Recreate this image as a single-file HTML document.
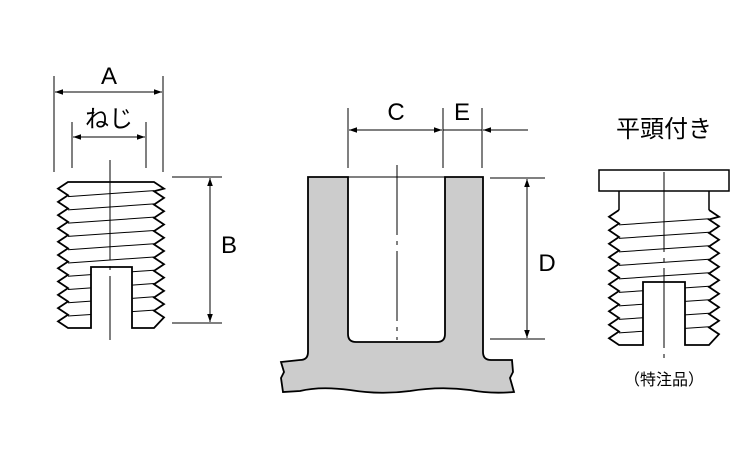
<!DOCTYPE html>
<html><head><meta charset="utf-8"><style>
body{margin:0;background:#fff}
svg{display:block}
text{font-family:"Liberation Sans","Noto Sans CJK JP",sans-serif;fill:#000}
</style></head><body>
<svg id="s" width="750" height="450" viewBox="0 0 750 450" xmlns="http://www.w3.org/2000/svg">
<defs>
<marker id="ar" viewBox="0 0 10 10" refX="10" refY="5" markerWidth="11" markerHeight="8" orient="auto-start-reverse" markerUnits="userSpaceOnUse"><path d="M0,1.5 L10,5 L0,8.5 Z" fill="#000"/></marker>
</defs>
<g stroke="#000" stroke-width="1" fill="none">
<line x1="54" y1="76" x2="54" y2="172"/><line x1="163" y1="76" x2="163" y2="172"/>
<line x1="55" y1="92" x2="162" y2="92" marker-start="url(#ar)" marker-end="url(#ar)"/>
<line x1="72" y1="122" x2="72" y2="168"/><line x1="146" y1="122" x2="146" y2="168"/>
<line x1="73" y1="137" x2="145" y2="137" marker-start="url(#ar)" marker-end="url(#ar)"/>
<line x1="172" y1="177" x2="222" y2="177"/><line x1="172" y1="323" x2="222" y2="323"/>
<line x1="210" y1="178" x2="210" y2="322" marker-start="url(#ar)" marker-end="url(#ar)"/>
<path d="M308,177 H348 V334 Q348,342 356,342 H437 Q445,342 445,334 V177 H483 V352 Q483,360 491,360 H512 L513,372 L510,378 L514,392 Q490,394 470,390 Q440,386 410,391 Q380,395 350,390 Q320,386 300,391 L283,392 L281,378 L284,372 L281,362 L300,360 Q308,360 308,352 Z" fill="#cccccc" stroke-width="1.8"/>
<line x1="348" y1="177" x2="445" y2="177"/>
<line x1="348" y1="108" x2="348" y2="168"/><line x1="443" y1="108" x2="443" y2="168"/><line x1="482" y1="108" x2="482" y2="168"/>
<line x1="349" y1="130" x2="442" y2="130" marker-start="url(#ar)" marker-end="url(#ar)"/>
<line x1="443" y1="130" x2="482" y2="130"/>
<line x1="528" y1="130" x2="483" y2="130" marker-end="url(#ar)"/>
<line x1="490" y1="178" x2="545" y2="178"/><line x1="490" y1="339" x2="545" y2="339"/>
<line x1="527" y1="179" x2="527" y2="338" marker-start="url(#ar)" marker-end="url(#ar)"/>
<line x1="397" y1="165" x2="397" y2="340" stroke-dasharray="70,6,4,6"/>
<rect x="599" y="170" width="130" height="21" stroke-width="1.5"/>
<path d="M619,191 V210 M709,191 V210" stroke-width="1.5"/>
<line x1="664" y1="172" x2="664" y2="358" stroke-dasharray="80,6,4,6"/>
<line x1="110" y1="160" x2="110" y2="340" stroke-dasharray="100,6,4,6"/>
</g>
<g id="th" stroke="#000" fill="none"></g>
<g font-size="24">
<text x="109" y="84" text-anchor="middle">A</text>
<text x="109" y="127" text-anchor="middle">ねじ</text>
<text x="229" y="253" text-anchor="middle">B</text>
<text x="396" y="120" text-anchor="middle">C</text>
<text x="462" y="120" text-anchor="middle">E</text>
<text x="547" y="271" text-anchor="middle">D</text>
<text x="664" y="137" text-anchor="middle">平頭付き</text>
</g>
<text x="664" y="385" text-anchor="middle" font-size="16">（特注品）</text>
</svg>
<script>
function insert(x0,x1,y0,y1,d,n,sx0,sx1,sy,topFlat){
 var g=document.getElementById('th'),ns='http://www.w3.org/2000/svg';
 var p=(y1-y0)/n;
 var pl=[],pr=[];
 for(var i=0;i<=n;i++){var y=y0+i*p;pl.push([x0+d,y]);if(i<n)pl.push([x0,y+p/2]);}
 for(var i=0;i<=n;i++){var y=y0+i*p-p*0.3;if(y<y0)y=y0;pr.push([x1-d,y]);if(i<n)pr.push([x1,y+p/2]);}
 pr[pr.length-1]=[x1-d,y1];
 var s='M'+pl.map(a=>a.join(',')).join(' L')+' L'+sx0+','+y1+' V'+sy+' H'+sx1+' V'+y1+' L'+pr.slice().reverse().map(a=>a.join(',')).join(' L');
 if(topFlat) s+=' Z';
 var e=document.createElementNS(ns,'path');e.setAttribute('d',s);e.setAttribute('stroke-width','1.8');g.appendChild(e);
 for(var i=1;i<n;i++){var yl=y0+i*p+p*0.1,yr=y0+i*p-p*0.35;
  var ln=document.createElementNS(ns,'path');
  if(yl>sy-2){var ya=yl+(yr-yl)*((sx0-x0-d)/(x1-x0-2*d)),yb=yl+(yr-yl)*((sx1-x0-d)/(x1-x0-2*d));
   ln.setAttribute('d','M'+(x0+d)+','+yl+' L'+sx0+','+ya+' M'+sx1+','+yb+' L'+(x1-d)+','+yr);}
  else ln.setAttribute('d','M'+(x0+d)+','+yl+' L'+(x1-d)+','+yr);
  ln.setAttribute('stroke-width','1');g.appendChild(ln);}
}
insert(58,164,182,328,10,11,91,132,267,true);
insert(609,719,210,345,10,10,643,685,282,false);
</script>
</body></html>
